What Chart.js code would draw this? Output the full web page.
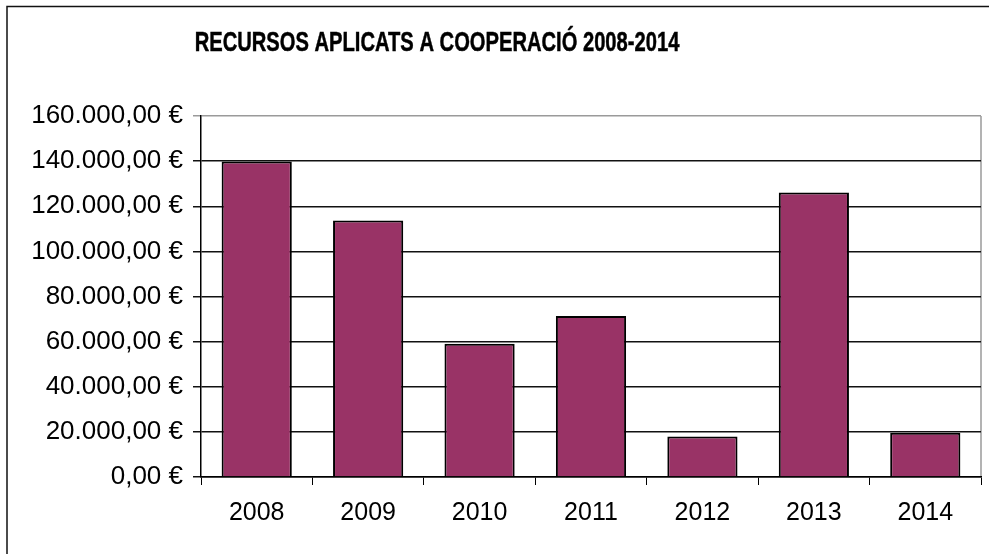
<!DOCTYPE html>
<html>
<head>
<meta charset="utf-8">
<script src="https://cdn.jsdelivr.net/npm/chart.js@4"></script>
<style>
    html, body { margin: 0; padding: 0; background: #fff; overflow: hidden; }
    #wrap { position: absolute; left: 0; top: 0; width: 989px; height: 554px; }
</style>
</head>
<body>
<div id="wrap"><canvas id="chart" width="989" height="554"></canvas></div>
<script>
const YEARS = ['2008', '2009', '2010', '2011', '2012', '2013', '2014'];
const RESOURCES = [139800, 113700, 59100, 71400, 17900, 126100, 19600];
const Y_TICKS = [0, 20000, 40000, 60000, 80000, 100000, 120000, 140000, 160000];
const TITLE = 'RECURSOS APLICATS A COOPERACIÓ 2008-2014';

const FONT = "'Liberation Sans', Arial, sans-serif";

// euro format like 140.000,00 €
function euro(v) {
    const [int, dec] = v.toFixed(2).split('.');
    return int.replace(/\B(?=(\d{3})+(?!\d))/g, '.') + ',' + dec + ' €';
}

// outer frame + title, Excel style
const framePlugin = {
    id: 'frame',
    beforeDraw(chart) {
        const ctx = chart.ctx;
        const area = chart.chartArea;
        ctx.save();
        ctx.fillStyle = '#fff';
        ctx.fillRect(0, 0, chart.width, chart.height);
        ctx.strokeStyle = '#111';
        ctx.lineWidth = 1.5;
        ctx.beginPath();
        ctx.moveTo(7, chart.height + 5);
        ctx.lineTo(7, 6.5);
        ctx.lineTo(chart.width + 5, 6.5);
        ctx.stroke();

        // right border of plot area
        ctx.strokeStyle = '#9a9a9a';
        ctx.lineWidth = 1.5;
        ctx.beginPath();
        ctx.moveTo(area.right, area.top);
        ctx.lineTo(area.right, area.bottom);
        ctx.stroke();

        // title, narrow bold
        ctx.fillStyle = '#000';
        ctx.strokeStyle = '#000';
        ctx.lineWidth = 0.5;
        ctx.font = 'bold 28px ' + FONT;
        ctx.textAlign = 'center';
        ctx.textBaseline = 'alphabetic';
        ctx.translate(437, 51);
        ctx.scale(0.72, 1);
        ctx.fillText(TITLE, 0, 0);
        ctx.strokeText(TITLE, 0, 0);
        ctx.restore();
    }
};

new Chart(document.getElementById('chart'), {
    type: 'bar',
    data: {
        labels: YEARS,
        datasets: [{
            data: RESOURCES,
            backgroundColor: '#993366',
            borderColor: '#000',
            borderWidth: 2,
            barPercentage: 0.63,
            categoryPercentage: 1,
        }],
    },
    options: {
        responsive: false,
        animation: false,
        events: [],
        layout: { padding: { top: 116, right: 8, left: 0, bottom: 0 } },
        plugins: {
            legend: { display: false },
            title: { display: false },
            tooltip: { enabled: false },
        },
        scales: {
            x: {
                offset: true,
                grid: {
                    offset: true,
                    drawOnChartArea: false,
                    drawTicks: true,
                    tickLength: 8,
                    color: '#000',
                    lineWidth: 1,
                },
                border: { color: '#000', width: 1.5 },
                ticks: {
                    color: '#000',
                    padding: 13,
                    font: { family: FONT, size: 25 },
                },
                afterFit: s => { s.height = 77; },
            },
            y: {
                min: 0,
                max: 160000,
                afterBuildTicks: s => { s.ticks = Y_TICKS.map(v => ({ value: v })); },
                grid: {
                    color: ctx => (ctx.tick && ctx.tick.value === 160000 ? '#9a9a9a' : '#111'),
                    lineWidth: 1.5,
                    drawTicks: true,
                    tickLength: 8,
                },
                border: { color: '#000', width: 1.5 },
                ticks: {
                    color: '#000',
                    padding: 10,
                    font: { family: FONT, size: 26 },
                    callback: v => euro(v),
                },
                afterFit: s => { s.width = 201; },
            },
        },
    },
    plugins: [framePlugin],
});
</script>
</body>
</html>
